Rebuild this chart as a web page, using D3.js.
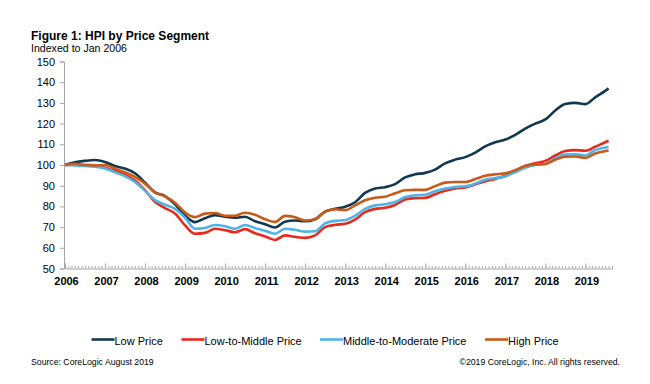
<!DOCTYPE html>
<html>
<head>
<meta charset="utf-8">
<script src="https://cdn.jsdelivr.net/npm/d3@7/dist/d3.min.js"></script>
<style>
  html, body { margin: 0; padding: 0; background: #fff; }
  svg { display: block; font-family: "Liberation Sans", Arial, sans-serif; }
</style>
</head>
<body>
<svg id="chart" width="650" height="384"></svg>
<script>
// ---- data ----
const dates = [
  "2006-01","2006-04","2006-07","2006-10","2007-01","2007-04","2007-07","2007-10",
  "2008-01","2008-04","2008-07","2008-10","2009-01","2009-04","2009-07","2009-10",
  "2010-01","2010-04","2010-07","2010-10","2011-01","2011-04","2011-07","2011-10",
  "2012-01","2012-04","2012-07","2012-10","2013-01","2013-04","2013-07","2013-10",
  "2014-01","2014-04","2014-07","2014-10","2015-01","2015-04","2015-07","2015-10",
  "2016-01","2016-04","2016-07","2016-10","2017-01","2017-04","2017-07","2017-10",
  "2018-01","2018-04","2018-07","2018-10","2019-01","2019-04","2019-07","2019-08"
];
const lowPrice = [
  100,101.3,102,102.4,101.5,99.5,98.3,96,91.5,86.8,85,81,75.5,72.4,74.3,75.8,
  75,74.5,75,72.8,71.4,69.8,72.6,73.2,72.8,73.8,77.5,78.8,79.8,82,86.5,88.6,
  89.3,90.8,94,95.5,96.2,97.8,100.8,102.6,103.8,106,109,111,112.3,114.5,117.6,120,
  122,126.3,129.5,130,129.4,132.7,135.8,137
];
const lowToMiddle = [
  100,100.3,100,99.8,98.7,97.2,95.3,92.5,87.8,82.2,79.2,76.6,70.8,66.8,67.2,69.2,
  68.5,67.5,69,67,65.5,63.8,66,65.3,64.8,66,70,71.1,71.6,73.6,77.2,78.8,
  79.3,80.7,83.3,84,84.1,85.9,87.5,88.7,89.2,90.6,92.2,93.3,94.8,97.3,99.5,100.8,
  102,104.6,106.8,107.2,106.9,108.8,111,111.7
];
const middleToModerate = [
  100,99.8,99.5,99.2,98.3,96.5,94.6,91.8,87.5,83,80.8,78.8,74.5,69.2,69.6,71,
  70.4,69.2,71,69.5,68.2,66.8,69.2,68.7,67.8,68,71.8,73,73.4,75.5,78.8,80.5,
  81,82.1,84.5,85.4,85.6,87.3,88.6,89.4,89.7,91,92.9,93.7,94.5,96.6,98.6,100,
  100.5,103.3,105,105.2,104.6,107.2,108.4,108.8
];
const highPrice = [
  100,100.6,100,99.8,100,98.3,96.5,94.3,91,86.8,84.8,81.8,77,74.8,76.5,76.8,
  75.5,75.5,76.9,76,73.8,72.5,75.4,74.8,73.2,73.8,77.5,78.6,78.2,80.5,83,84.2,
  84.7,86.3,87.8,88,88,89.8,91.5,91.8,91.8,93.2,94.8,95.5,96,97.5,99.5,100.2,
  100.5,102.5,104,104.1,103.4,105.6,106.7,107
];
const seriesNames = ["Low Price","Low-to-Middle Price","Middle-to-Moderate Price","High Price"];
const seriesColors = ["#12384f","#e8291c","#4fb3e8","#c95a1a"];
const yTicks = [50,60,70,80,90,100,110,120,130,140,150];
const yearLabels = ["2006","2007","2008","2009","2010","2011","2012","2013","2014","2015","2016","2017","2018","2019"];

// ---- chart ----
const svg = d3.select("#chart");
const parse = d3.timeParse("%Y-%m");
const allSeries = [lowPrice, lowToMiddle, middleToModerate, highPrice];

const x = d3.scaleTime()
  .domain([new Date(2006,0,1), new Date(2019,8,1)])
  .range([65, 612]);
const y = d3.scaleLinear().domain([50,150]).range([268.5, 61.5]);

// title
svg.append("text").attr("x",31).attr("y",40)
  .attr("font-size",12).attr("font-weight","bold").attr("fill","#000")
  .text("Figure 1: HPI by Price Segment");
svg.append("text").attr("x",31).attr("y",51.5)
  .attr("font-size",10.6).attr("fill","#000")
  .text("Indexed to Jan 2006");

const axisColor = "#a6a6a6";

// y axis
const yAxis = d3.axisLeft(y).tickValues(yTicks).tickSize(4).tickPadding(5);
const gy = svg.append("g").attr("transform","translate(64,0)").call(yAxis);
gy.select(".domain").attr("stroke",axisColor);
gy.selectAll(".tick line").attr("stroke",axisColor);
gy.selectAll(".tick text").attr("font-size",11).attr("fill","#000")
  .attr("font-family","'Liberation Sans', Arial, sans-serif");

// x axis: monthly minor ticks
const months = d3.timeMonth.range(new Date(2006,0,1), new Date(2019,8,2));
const xMinor = d3.axisBottom(x).tickValues(months).tickSize(-2.5).tickFormat("");
const gxm = svg.append("g").attr("transform",`translate(0,${y(50)})`).call(xMinor);
gxm.select(".domain").attr("stroke",axisColor);
gxm.selectAll(".tick line").attr("stroke",axisColor);

const yearDates = yearLabels.map(d => new Date(+d,0,1));
const xMajor = d3.axisBottom(x).tickValues(yearDates).tickSize(-5)
  .tickPadding(9).tickFormat((d,i) => yearLabels[i]);
const gx = svg.append("g").attr("transform",`translate(1,${y(50)})`).call(xMajor);
gx.select(".domain").remove();
gx.selectAll(".tick line").attr("stroke",axisColor).attr("transform","translate(-1,0)");
gx.selectAll(".tick text").attr("font-size",11).attr("font-weight","bold").attr("fill","#000")
  .attr("font-family","'Liberation Sans', Arial, sans-serif");

// lines
const line = d3.line()
  .x((d,i) => x(parse(dates[i])))
  .y(d => y(d))
  .curve(d3.curveMonotoneX);

allSeries.forEach((s,k) => {
  svg.append("path").datum(s)
    .attr("fill","none")
    .attr("stroke",seriesColors[k])
    .attr("stroke-width",2.6)
    .attr("stroke-linejoin","round")
    .attr("d",line);
});

// legend
const legendX = [91.5, 181.5, 320, 485];
const lg = svg.append("g");
seriesNames.forEach((n,k) => {
  lg.append("line").attr("x1",legendX[k]).attr("x2",legendX[k]+23)
    .attr("y1",339.5).attr("y2",339.5)
    .attr("stroke",seriesColors[k]).attr("stroke-width",2.6);
  lg.append("text").attr("x",legendX[k]+23).attr("y",344.5)
    .attr("font-size",11).attr("fill","#000").text(n);
});

// footer
svg.append("text").attr("x",31).attr("y",365)
  .attr("font-size",8.7).attr("fill","#000")
  .text("Source: CoreLogic August 2019");
svg.append("text").attr("x",620).attr("y",365)
  .attr("font-size",8.7).attr("fill","#000").attr("text-anchor","end")
  .text("©2019 CoreLogic, Inc. All rights reserved.");
</script>
</body>
</html>
